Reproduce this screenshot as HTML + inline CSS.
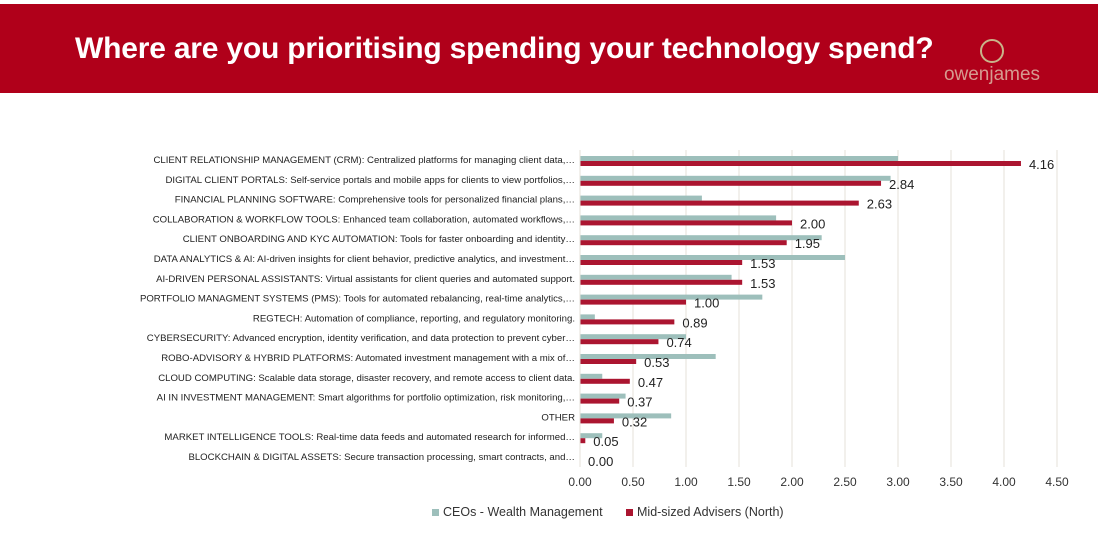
<!DOCTYPE html>
<html><head><meta charset="utf-8"><style>
body{margin:0;width:1105px;height:535px;background:#fff;overflow:hidden;font-family:"Liberation Sans",sans-serif;}
#hdr{position:absolute;left:0;top:4px;width:1098px;height:89px;background:#b0001a;}
#title{position:absolute;left:75px;top:32px;color:#fff;font-weight:bold;font-size:30px;letter-spacing:-0.2px;white-space:nowrap;}
#logo{position:absolute;left:940px;top:38px;}
</style></head><body>
<div id="hdr"></div>
<div id="title">Where are you prioritising spending your technology spend?</div>
<svg id="logo" width="110" height="50">
<circle cx="52" cy="13" r="11" fill="none" stroke="#c9b48a" stroke-width="2"/>
<text x="52" y="42" text-anchor="middle" fill="#d69a8f" font-size="19" font-family="Liberation Sans">owenjames</text>
</svg>
<svg id="chart" width="1105" height="535" style="position:absolute;left:0;top:0"></svg>
<script>
const categories=["CLIENT RELATIONSHIP MANAGEMENT (CRM): Centralized platforms for managing client data,…","DIGITAL CLIENT PORTALS: Self-service portals and mobile apps for clients to view portfolios,…","FINANCIAL PLANNING SOFTWARE: Comprehensive tools for personalized financial plans,…","COLLABORATION & WORKFLOW TOOLS: Enhanced team collaboration, automated workflows,…","CLIENT ONBOARDING AND KYC AUTOMATION: Tools for faster onboarding and identity…","DATA ANALYTICS & AI: AI-driven insights for client behavior, predictive analytics, and investment…","AI-DRIVEN PERSONAL ASSISTANTS: Virtual assistants for client queries and automated support.","PORTFOLIO MANAGMENT SYSTEMS (PMS): Tools for automated rebalancing, real-time analytics,…","REGTECH: Automation of compliance, reporting, and regulatory monitoring.","CYBERSECURITY:  Advanced encryption, identity verification, and data protection to prevent cyber…","ROBO-ADVISORY & HYBRID PLATFORMS: Automated investment management with a mix of…","CLOUD COMPUTING: Scalable data storage, disaster recovery, and remote access to client data.","AI IN INVESTMENT MANAGEMENT: Smart algorithms for portfolio optimization, risk monitoring,…","OTHER","MARKET INTELLIGENCE TOOLS: Real-time data feeds and automated research for informed…","BLOCKCHAIN & DIGITAL ASSETS: Secure transaction processing, smart contracts, and…"];
const ceoValues=[3.00,2.93,1.15,1.85,2.28,2.50,1.43,1.72,0.14,1.00,1.28,0.21,0.43,0.86,0.21,0];
const advValues=[4.16,2.84,2.63,2.00,1.95,1.53,1.53,1.00,0.89,0.74,0.53,0.47,0.37,0.32,0.05,0.00];
const ticks=[0,0.5,1,1.5,2,2.5,3,3.5,4,4.5];
const seriesNames=["CEOs - Wealth Management","Mid-sized Advisers (North)"];
const svg=document.getElementById('chart');const NS="http://www.w3.org/2000/svg";
const x=v=>580+v*106;const y=i=>156+i*19.8;
function mk(t,a){const e=document.createElementNS(NS,t);for(const k in a)e.setAttribute(k,a[k]);svg.appendChild(e);return e;}
ticks.forEach(t=>{
const g=mk('line',{x1:x(t),x2:x(t),y1:150,y2:467,stroke:'#e4e1da','stroke-width':1});


const l=mk('text',{x:x(t),y:486,'text-anchor':'middle','font-size':12,fill:'#333'});l.textContent=t.toFixed(2);


});
categories.forEach((c,i)=>{
const l=mk('text',{x:575,y:y(i)+7,'text-anchor':'end','font-size':9.6,fill:'#222'});l.textContent=c;


const b1=mk('rect',{x:x(0),y:y(i),width:Math.max(0,x(ceoValues[i])-x(0)),height:5,fill:'#9dbfbb'});


const b2=mk('rect',{x:x(0),y:y(i)+5,width:Math.max(0,x(advValues[i])-x(0)),height:5,fill:'#ab1530'});


const v=mk('text',{x:x(advValues[i])+8,y:y(i)+13,'font-size':13,fill:'#222'});v.textContent=advValues[i].toFixed(2);


});
mk('line',{x1:x(0),x2:x(0),y1:150,y2:467,stroke:'#e4e1da'});
[[432,'#9dbfbb',0],[626,'#ab1530',1]].forEach(([lx,col,k])=>{
const r=mk('rect',{x:lx,y:509,width:7,height:7,fill:col});


const t=mk('text',{x:lx+11,y:516,'font-size':12.5,fill:'#333'});t.textContent=seriesNames[k];


});
</script>
</body></html>
